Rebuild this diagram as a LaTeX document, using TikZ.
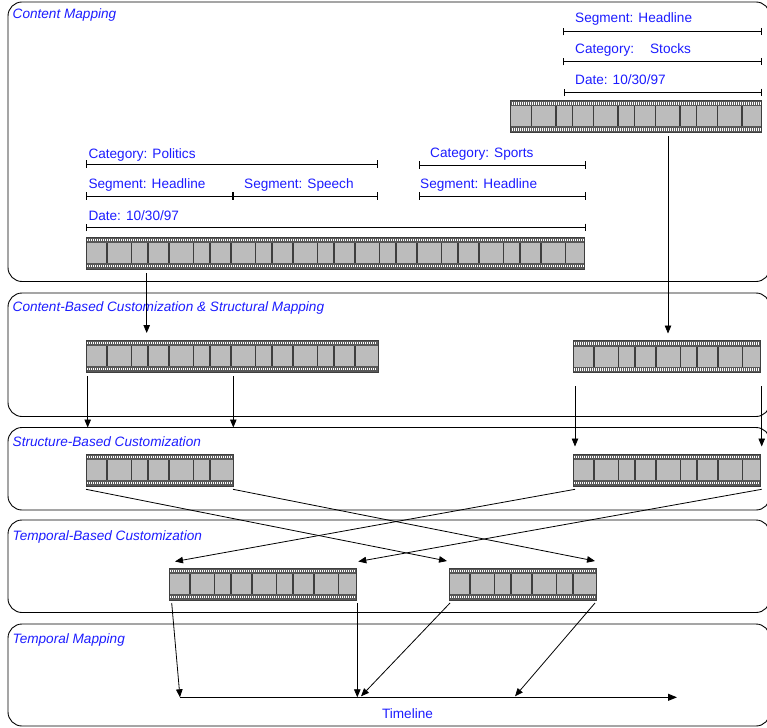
\documentclass[tikz,border=0pt]{standalone}
\usepackage{fontspec}
\setmainfont{Liberation Sans}
\usetikzlibrary{arrows.meta,calc}

\definecolor{labelblue}{RGB}{28,28,255}
\definecolor{framegray}{RGB}{188,188,188}
\definecolor{bandgray}{RGB}{88,88,88}
\definecolor{sepgray}{RGB}{62,62,62}

\tikzset{
  panel/.style={draw=black, line width=0.9pt, rounded corners=14pt,
    inner sep=0pt, outer sep=0pt, anchor=north west},
  paneltitle/.style={text=labelblue, font=\fontsize{13.6}{16}\selectfont\itshape,
    inner sep=0pt, anchor=base west},
  tag/.style={text=labelblue, font=\fontsize{13.6}{16}\selectfont,
    inner sep=0pt, anchor=base west},
  stripbox/.style={fill=bandgray, minimum height=32pt, inner sep=0pt,
    outer sep=0pt, anchor=north west},
  span/.style={line width=0.9pt, {Bar[width=7.5pt]}-{Bar[width=7.5pt]}},
  flow/.style={line width=0.8pt, -{Triangle[length=8pt,width=6.5pt]}},
}

% film strip: name, left x, width, top y
\newcommand{\filmstrip}[4]{%
  \node[stripbox, minimum width=#3pt] (#1) at (#2,#4) {};
  \begin{scope}
    \clip (#1.north west) rectangle (#1.south east);
    \fill[framegray] ($(#1.north west)+(0,6)$) rectangle ($(#1.south east)+(0,-6)$);
    \draw[white, line width=2.4pt, dash pattern=on 0.9pt off 1.1pt]
      ($(#1.north west)+(1,3)$) -- ($(#1.north east)+(-1,3)$);
    \draw[white, line width=2.4pt, dash pattern=on 0.9pt off 1.1pt]
      ($(#1.south west)+(1,-3)$) -- ($(#1.south east)+(-1,-3)$);
    \foreach \k in {0,...,8}{
      \foreach \d in {20.8,45.6,62}{
        \pgfmathsetmacro\xx{\k*62+\d}
        \ifdim\xx pt<\dimexpr#3pt-4pt\relax
          \draw[sepgray, line width=1.4pt] ($(#1.north west)+(\xx,6)$) -- ++(0,20);
        \fi
      }
    }
  \end{scope}
  \draw[sepgray, line width=0.9pt] (#1.north west) rectangle (#1.south east);
}

\begin{document}
\begin{tikzpicture}[x=1pt, y=-1pt]
\useasboundingbox (0,0) rectangle (767,727);
\clip (0,0) rectangle (767,727);

% ---------- stages ----------
\node[panel, minimum width=762pt, minimum height=279.5pt] (p1) at (8,2) {};
\node[panel, minimum width=762pt, minimum height=123.5pt] (p2) at (8,293) {};
\node[panel, minimum width=762pt, minimum height=82.5pt]  (p3) at (8,427.5) {};
\node[panel, minimum width=762pt, minimum height=92.5pt]  (p4) at (8,520) {};
\node[panel, minimum width=762pt, minimum height=102pt]   (p5) at (8,624) {};

\node[paneltitle] (t1) at (12.5,18.3)  {Content Mapping};
\node[paneltitle] (t2) at (12.5,311.7) {Content-Based Customization \& Structural Mapping};
\node[paneltitle] (t3) at (12.5,446.7) {Structure-Based Customization};
\node[paneltitle] (t4) at (12.5,540)   {Temporal-Based Customization};
\node[paneltitle] (t5) at (12.5,643.3) {Temporal Mapping};

% ---------- film strips ----------
\filmstrip{s1}{510.5}{250.5}{100.5}
\filmstrip{s2}{86}{498.5}{237}
\filmstrip{s3}{86}{292}{340}
\filmstrip{s4}{573}{187.5}{340.5}
\filmstrip{s5}{86}{147}{454}
\filmstrip{s6}{573}{187.5}{454}
\filmstrip{s7}{169}{187}{568}
\filmstrip{s8}{449}{147.5}{568}

% ---------- annotations of the stock news ----------
\node[tag] (l1) at (575,22.7) {Segment: Headline};
\draw[span] (563.3,31.7) -- (761.7,31.7);
\node[tag] (l2) at (575,54) {Category:\hspace{16pt}Stocks};
\draw[span] (563.3,61.7) -- (761.7,61.7);
\node[tag] (l3) at (575,85) {Date: 10/30/97};
\draw[span] (564.3,92.3) -- (761.7,92.3);

% ---------- annotations of the main broadcast ----------
\node[tag] (l4) at (88.3,158.3) {Category: Politics};
\draw[span] (86,164) -- (378.3,164);
\node[tag] (l5) at (88.3,188.3) {Segment: Headline};
\draw[span] (86,196) -- (232.7,196);
\node[tag] (l6) at (244,188.3) {Segment: Speech};
\draw[span] (232.7,196) -- (378.3,196);
\node[tag] (l7) at (88.3,220) {Date: 10/30/97};
\draw[span] (86,227.3) -- (585.7,227.3);
\node[tag] (l8) at (430,157.3) {Category: Sports};
\draw[span] (419,165) -- (585.7,165);
\node[tag] (l9) at (420,188.3) {Segment: Headline};
\draw[span] (419,196) -- (585.7,196);

% ---------- content mapping -> customization ----------
\draw[flow] ($(s1.south west)+(157.5,4)$) -- ($(s4.north west)+(95,-7)$);
\draw[flow] ($(s2.south west)+(60.7,4)$) -- ($(s3.north west)+(60.7,-7)$);

% ---------- customization -> structure stage ----------
\draw[flow] ($(s3.south west)+(1.7,4)$) coordinate (a1) -- (a1 |- p3.north);
\draw[flow] ($(s3.south west)+(147.3,4)$) coordinate (a2) -- (a2 |- p3.north);
\draw[flow] ($(s4.south west)+(2,13.5)$) -- ($(s6.north west)+(2,-7.5)$);
\draw[flow] ($(s4.south east)+(1.2,13.5)$) -- ($(s6.north east)+(1.2,-7.5)$);

% ---------- structure -> temporal reordering ----------
\draw[flow] ($(s5.south west)+(0,3.3)$) -- ($(s8.north west)+(-2,-7)$);
\draw[flow] ($(s5.south east)+(0,3.3)$) -- ($(s8.north east)+(-1.5,-7)$);
\draw[flow] ($(s6.south west)+(2,3.3)$) -- ($(s7.north west)+(6,-6.5)$);
\draw[flow] ($(s6.south east)+(1.2,3.3)$) -- ($(s7.north east)+(2.3,-6.5)$);

% ---------- timeline ----------
\coordinate (tl0) at (180,697.3);
\coordinate (tl1) at (677,697.3);
\draw[line width=0.9pt, -{Triangle[length=9pt,width=7pt]}] (tl0) -- (tl1);
\node[tag, anchor=base] (tlabel) at (407.5,718.3) {Timeline};

\draw[flow] ($(s7.south west)+(2.7,3)$) -- (tl0);
\draw[flow] ($(s7.south east)+(1.3,3)$) -- ($(tl0)+(177.3,0)$);
\draw[flow] ($(s8.south west)+(1,3)$) -- ($(tl0)+(181,-1)$);
\draw[flow] ($(s8.south east)+(-1.5,3)$) -- ($(tl0)+(335,-1)$);
\end{tikzpicture}
\end{document}
